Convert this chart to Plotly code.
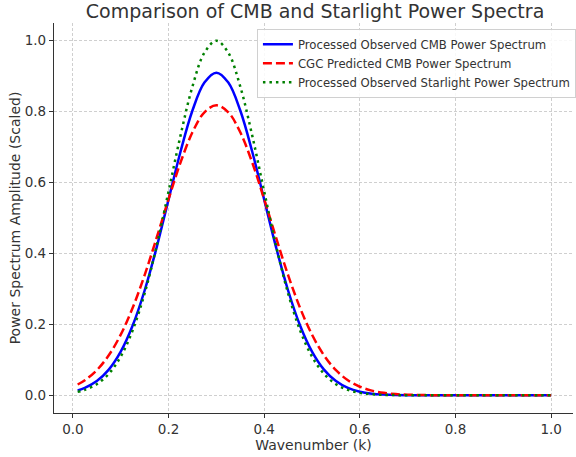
import plotly.graph_objects as go

# wavenumber samples
k = [0.01, 0.025, 0.05, 0.075, 0.1, 0.125, 0.15, 0.175, 0.2, 0.225, 0.25, 0.275,
     0.3, 0.325, 0.35, 0.375, 0.4, 0.425, 0.45, 0.475, 0.5, 0.525, 0.55, 0.575,
     0.6, 0.625, 0.65, 0.675, 0.7, 0.75, 0.8, 0.9, 1.0]

observed_cmb = [0.0136, 0.0207, 0.0400, 0.0724, 0.1232, 0.1968, 0.2955, 0.4166,
                0.5519, 0.6869, 0.8031, 0.8820, 0.9100, 0.8820, 0.8031, 0.6869,
                0.5519, 0.4166, 0.2955, 0.1968, 0.1232, 0.0724, 0.0400, 0.0207,
                0.0101, 0.0046, 0.0020, 0.0008, 0.0003, 0.0, 0.0, 0.0, 0.0]

cgc_cmb = [0.0304, 0.0423, 0.0708, 0.1127, 0.1709, 0.2466, 0.3390, 0.4437,
           0.5530, 0.6564, 0.7417, 0.7982, 0.8180, 0.7982, 0.7417, 0.6564,
           0.5530, 0.4437, 0.3390, 0.2466, 0.1709, 0.1127, 0.0708, 0.0423,
           0.0241, 0.0131, 0.0068, 0.0033, 0.0016, 0.0003, 0.0, 0.0, 0.0]

starlight = [0.0095, 0.0152, 0.0313, 0.0605, 0.1090, 0.1833, 0.2875, 0.4208,
             0.5747, 0.7323, 0.8707, 0.9660, 1.0000, 0.9660, 0.8707, 0.7323,
             0.5747, 0.4208, 0.2875, 0.1833, 0.1090, 0.0605, 0.0313, 0.0152,
             0.0068, 0.0029, 0.0011, 0.0004, 0.0001, 0.0, 0.0, 0.0, 0.0]

x_ticks = [0.0, 0.2, 0.4, 0.6, 0.8, 1.0]
y_ticks = [0.0, 0.2, 0.4, 0.6, 0.8, 1.0]

TXT = '#333333'
FONT = 'DejaVu Sans'

fig = go.Figure()
fig.add_trace(go.Scatter(
    x=k, y=observed_cmb, mode='lines', line_shape='spline',
    name='Processed Observed CMB Power Spectrum',
    line=dict(color='blue', width=2.5),
))
fig.add_trace(go.Scatter(
    x=k, y=cgc_cmb, mode='lines', line_shape='spline',
    name='CGC Predicted CMB Power Spectrum',
    line=dict(color='red', width=2.5, dash='9px,4px'),
))
fig.add_trace(go.Scatter(
    x=k, y=starlight, mode='lines', line_shape='spline',
    name='Processed Observed Starlight Power Spectrum',
    line=dict(color='green', width=2.5, dash='2.5px,4px'),
))

axis_style = dict(
    showline=True, linecolor=TXT, linewidth=1.25,
    ticks='outside', ticklen=4, tickcolor=TXT, tickwidth=1,
    showgrid=True, gridcolor='#cfcfcf', gridwidth=0.8, griddash='3px,2px',
    zeroline=False, tickformat='.1f', automargin=False,
    tickfont=dict(size=13.5, color=TXT, family=FONT),
)

fig.update_xaxes(
    range=[-0.0395, 1.0457], tickvals=x_ticks,
    title=dict(text='Wavenumber (k)', font=dict(size=14, color=TXT, family=FONT),
               standoff=0),
    **axis_style,
)
fig.update_yaxes(
    range=[-0.05, 1.05], tickvals=y_ticks,
    title=dict(text='Power Spectrum Amplitude (Scaled)',
               font=dict(size=14, color=TXT, family=FONT), standoff=0),
    **axis_style,
)

fig.update_layout(
    width=576, height=457,
    margin=dict(l=54, r=0, t=23, b=44),
    plot_bgcolor='white', paper_bgcolor='white',
    font=dict(family=FONT, color=TXT),
    title=dict(text='Comparison of CMB and Starlight Power Spectra',
               x=0.547, xanchor='center', y=0.976, yanchor='middle',
               font=dict(size=19, color=TXT, family=FONT)),
    legend=dict(x=0.391, y=0.985, xanchor='left', yanchor='top',
                bgcolor='rgba(255,255,255,0.85)', bordercolor='#d0d0d0',
                borderwidth=1, font=dict(size=11.7, color=TXT, family=FONT),
                itemwidth=30, tracegroupgap=0),
    showlegend=True,
)

# drop the browser's default body margin so the figure sits at the page corner
fig.write_html('out.html', config={'displayModeBar': False},
               post_script="document.body.style.margin='0';")
